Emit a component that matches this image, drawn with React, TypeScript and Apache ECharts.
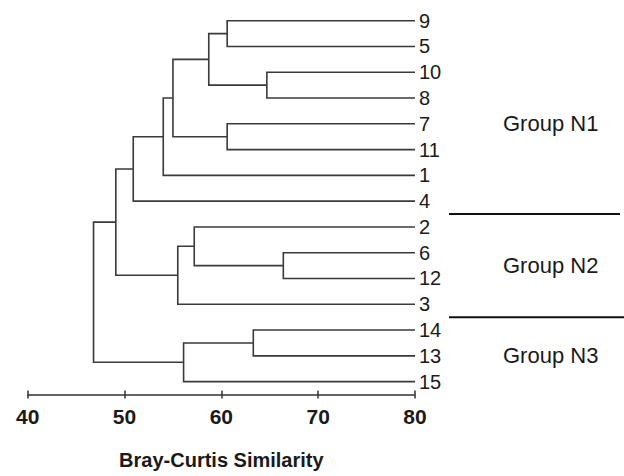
import React, { useEffect, useRef } from "react";
import * as echarts from "echarts";

// Leaves, top to bottom
const leaves = ["9", "5", "10", "8", "7", "11", "1", "4", "2", "6", "12", "3", "14", "13", "15"];
// Merge steps: left child, right child, similarity at which they join (M<i> = i-th merge)
const mergeLeft = ["9", "10", "M0", "7", "M2", "M4", "M5", "6", "2", "M8", "M6", "14", "M11", "M10"];
const mergeRight = ["5", "8", "M1", "11", "M3", "1", "4", "12", "M7", "3", "M9", "13", "15", "M12"];
const mergeSimilarity = [60.6, 64.7, 58.7, 60.6, 55.0, 54.0, 50.9, 66.4, 57.2, 55.5, 49.1, 63.3, 56.1, 46.8];
const leafSimilarity = 80;

// Axis
const axisMin = 40;
const axisMax = 80;
const axisInterval = 10;
const axisTitle = "Bray-Curtis Similarity";

// Groups
const groupNames = ["Group N1", "Group N2", "Group N3"];
const groupLabelRows = [4, 9.5, 13];
const groupDividerRows = [7.5, 11.5];

const FONT = "'Liberation Sans', Arial, Helvetica, sans-serif";
const LINE = "#3a3a3a";

export default function App() {
  const ref = useRef<HTMLDivElement>(null);

  useEffect(() => {
    if (!ref.current) return;
    const chart = echarts.init(ref.current, null, { renderer: "svg" });

    const pos: Record<string, { x: number; y: number }> = {};
    leaves.forEach((l, i) => (pos[l] = { x: leafSimilarity, y: i }));
    const linkData: number[][] = [];
    mergeSimilarity.forEach((s, i) => {
      const a = pos[mergeLeft[i]];
      const b = pos[mergeRight[i]];
      pos["M" + i] = { x: s, y: (a.y + b.y) / 2 };
      linkData.push([s, a.y, b.y, a.x, b.x]);
    });

    const dividerEnds = [620, 624];

    chart.setOption({
      animation: false,
      grid: { left: 27.7, right: 209, top: 20.7, bottom: 81.5, containLabel: false },
      xAxis: [
        {
          type: "value",
          min: axisMin,
          max: axisMax,
          interval: axisInterval,
          position: "bottom",
          splitLine: { show: false },
          axisLine: { show: true, onZero: false, lineStyle: { color: "#333", width: 1.5 } },
          axisTick: { show: true, length: 4, lineStyle: { color: "#333", width: 1.5 } },
          axisLabel: {
            margin: 11,
            color: "#1a1a1a",
            fontSize: 21,
            fontWeight: "bold",
            fontFamily: FONT,
          },
          name: axisTitle,
          nameLocation: "middle",
          nameGap: 55,
          nameTextStyle: { color: "#1a1a1a", fontSize: 20, fontWeight: "bold", fontFamily: FONT },
        },
        {
          type: "value",
          min: axisMin,
          max: axisMax,
          interval: axisInterval,
          position: "bottom",
          offset: 0,
          splitLine: { show: false },
          axisLine: { show: false, onZero: false },
          axisTick: { show: true, inside: true, length: 4, lineStyle: { color: "#333", width: 1.5 } },
          axisLabel: { show: false },
        },
      ],
      yAxis: {
        type: "value",
        inverse: true,
        min: 0,
        max: 14.5,
        interval: 1,
        position: "right",
        splitLine: { show: false },
        axisLine: { show: false },
        axisTick: { show: false },
        axisLabel: {
          margin: 4,
          color: "#1a1a1a",
          fontSize: 20,
          fontFamily: FONT,
          formatter: (v: number) => (Number.isInteger(v) && leaves[v] !== undefined ? leaves[v] : ""),
        },
      },
      series: [
        {
          type: "custom",
          xAxisIndex: 0,
          encode: { x: [0, 3, 4], y: [1, 2] },
          data: linkData,
          renderItem: (params: any, api: any) => {
            const h = api.value(0);
            const ya = api.value(1);
            const yb = api.value(2);
            const ha = api.value(3);
            const hb = api.value(4);
            const pts = [
              api.coord([ha, ya]),
              api.coord([h, ya]),
              api.coord([h, yb]),
              api.coord([hb, yb]),
            ];
            return {
              type: "polyline",
              shape: { points: pts },
              style: { stroke: LINE, lineWidth: 1.6, fill: "none" },
            };
          },
        },
        {
          type: "custom",
          xAxisIndex: 0,
          encode: { y: 0 },
          data: groupLabelRows.map((r, i) => [r, i]),
          renderItem: (params: any, api: any) => {
            const p = api.coord([axisMax, api.value(0)]);
            return {
              type: "text",
              x: p[0] + 88,
              y: p[1],
              style: {
                text: groupNames[api.value(1)],
                fill: "#1a1a1a",
                fontSize: 22,
                fontFamily: FONT,
                align: "left",
                verticalAlign: "middle",
              },
            };
          },
        },
        {
          type: "custom",
          xAxisIndex: 0,
          encode: { y: 0 },
          data: groupDividerRows.map((r, i) => [r, i]),
          renderItem: (params: any, api: any) => {
            const p = api.coord([axisMax, api.value(0)]);
            return {
              type: "line",
              shape: { x1: p[0] + 34, y1: p[1], x2: dividerEnds[api.value(1)], y2: p[1] },
              style: { stroke: "#111", lineWidth: 2 },
            };
          },
        },
      ],
    });

    return () => chart.dispose();
  }, []);

  return (
    <div
      ref={ref}
      style={{ position: "fixed", left: 0, top: 0, width: 624, height: 476, background: "#fff" }}
    />
  );
}
